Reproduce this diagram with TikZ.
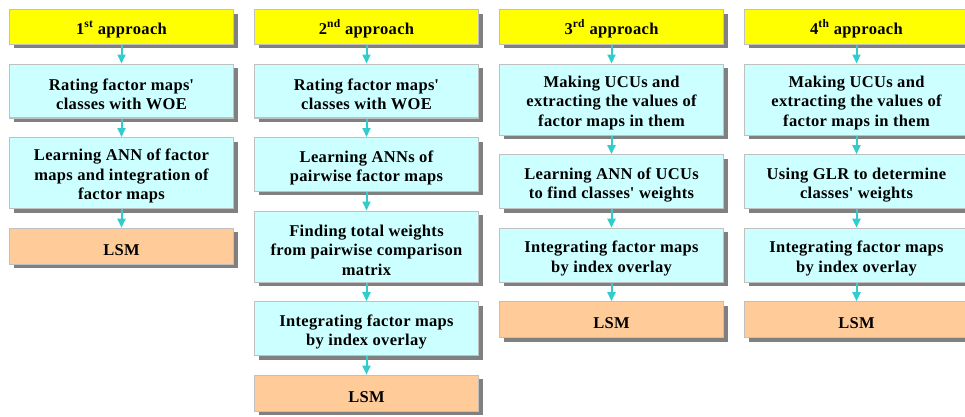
\documentclass[tikz,border=0pt]{standalone}
\usepackage{fontspec}
\setmainfont{Liberation Serif}[LetterSpace=2]
\usetikzlibrary{positioning, shadows, arrows.meta}

\definecolor{headyellow}{HTML}{FFFF00}
\definecolor{stepcyan}{HTML}{CCFFFF}
\definecolor{lsmorange}{HTML}{FFCC99}
\definecolor{rimgray}{HTML}{C0C0C0}
\definecolor{flowteal}{HTML}{33CCCC}
\newcommand{\apos}{\textquotesingle}
\newcommand{\lift}{\rule{0pt}{18pt}}

\begin{document}
\begin{tikzpicture}[x=1pt, y=-1pt, node distance=18.5pt,
    box/.style={draw=rimgray, line width=1.2pt, minimum width=224pt, align=center, inner sep=2pt,
        font=\fontsize{16.5}{19.5}\selectfont\bfseries,
        drop shadow={shadow xshift=4pt, shadow yshift=-4pt, fill=gray, opacity=1}},
    head/.style={box, fill=headyellow, minimum height=34.8pt},
    stepbox/.style={box, fill=stepcyan, minimum height=53.8pt},
    tallbox/.style={box, fill=stepcyan, minimum height=71pt},
    lsm/.style={box, fill=lsmorange, minimum height=35.8pt},
    flow/.style={color=flowteal, line width=2pt, -{Triangle[width=8pt,length=9pt]}}]
    \useasboundingbox (0,0) rectangle (965,416);
    \clip (0,0) rectangle (965,416);

    % 1st approach
    \node[head] (h_1) at (121.5,27) {\lift 1\textsuperscript{st} approach};
    \node[stepbox] (w_1) [below= of h_1] {\lift Rating factor maps\apos\\classes with WOE};
    \node[tallbox] (a_1) [below= of w_1] {\lift Learning ANN of factor\\maps and integration of\\factor maps};
    \node[lsm] (l_1) [below= of a_1] {\lift LSM};

    % 2nd approach
    \node[head] (h_2) at (366.5,27) {\lift 2\textsuperscript{nd} approach};
    \node[stepbox] (w_2) [below= of h_2] {\lift Rating factor maps\apos\\classes with WOE};
    \node[stepbox] (a_2) [below= of w_2] {\lift Learning ANNs of\\pairwise factor maps};
    \node[tallbox] (t_2) [below= of a_2] {\lift Finding total weights\\from pairwise comparison\\matrix};
    \node[stepbox] (i_2) [below= of t_2] {\lift Integrating factor maps\\by index overlay};
    \node[lsm] (l_2) [below= of i_2] {\lift LSM};

    % 3rd approach
    \node[head] (h_3) at (611.5,27) {\lift 3\textsuperscript{rd} approach};
    \node[tallbox] (u_3) [below= of h_3] {\lift Making UCUs and\\extracting the values of\\factor maps in them};
    \node[stepbox] (a_3) [below= of u_3] {\lift Learning ANN of UCUs\\to find classes\apos\ weights};
    \node[stepbox] (i_3) [below= of a_3] {\lift Integrating factor maps\\by index overlay};
    \node[lsm] (l_3) [below= of i_3] {\lift LSM};

    % 4th approach
    \node[head] (h_4) at (856.5,27) {\lift 4\textsuperscript{th} approach};
    \node[tallbox] (u_4) [below= of h_4] {\lift Making UCUs and\\extracting the values of\\factor maps in them};
    \node[stepbox] (g_4) [below= of u_4] {\lift Using GLR to determine\\classes\apos\ weights};
    \node[stepbox] (i_4) [below= of g_4] {\lift Integrating factor maps\\by index overlay};
    \node[lsm] (l_4) [below= of i_4] {\lift LSM};

        \path[flow]
        (h_1) edge (w_1)
        (w_1) edge (a_1)
        (a_1) edge (l_1)
        (h_2) edge (w_2)
        (w_2) edge (a_2)
        (a_2) edge (t_2)
        (t_2) edge (i_2)
        (i_2) edge (l_2)
        (h_3) edge (u_3)
        (u_3) edge (a_3)
        (a_3) edge (i_3)
        (i_3) edge (l_3)
        (h_4) edge (u_4)
        (u_4) edge (g_4)
        (g_4) edge (i_4)
        (i_4) edge (l_4);

\end{tikzpicture}
\end{document}
